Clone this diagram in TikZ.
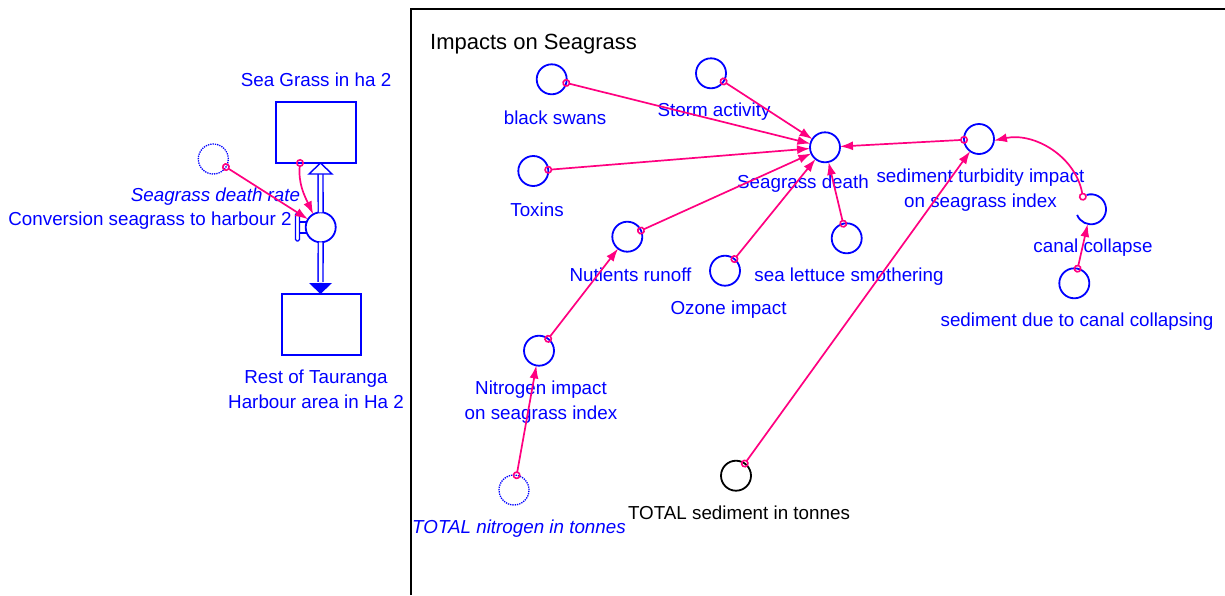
\documentclass[tikz,border=0pt]{standalone}
\usepackage{fontspec}
\setmainfont{Liberation Sans}
\usetikzlibrary{arrows.meta,calc}
\definecolor{vblue}{RGB}{0,0,255}
\definecolor{lmag}{RGB}{255,0,128}
\newcommand\lblfont{\fontsize{18.8pt}{25pt}\selectfont}
\newcommand\ttlfont{\fontsize{22pt}{26pt}\selectfont}
\begin{document}
\begin{tikzpicture}[x=1pt,y=1pt,
 aux/.style={circle,draw=vblue,line width=1.8pt,minimum size=30pt,inner sep=0pt,outer sep=0pt},
 shadowvar/.style={circle,draw=vblue,densely dotted,line width=1.3pt,minimum size=30pt,inner sep=0pt,outer sep=0pt},
 stock/.style={draw=vblue,line width=1.6pt,minimum width=80pt,minimum height=61pt,inner sep=0pt,outer sep=0pt},
 lbl/.style={text=vblue,font=\lblfont,inner sep=0pt,align=center},
 link/.style={draw=lmag,line width=1.7pt,{Circle[open,length=8pt,width=8pt,line width=1.6pt]}-{Latex[length=13pt,width=9pt]},shorten <=-4pt},
 pipe/.style={draw=vblue,line width=1.4pt,double=white,double distance=3.5pt},
]
\useasboundingbox (0,0) rectangle (1225,-595);
\fill[white] (0,0) rectangle (1225,-595);

% frame
\draw[line width=2pt] (411,-595) -- (411,-9) -- (1225,-9);

% ---------- left stock-flow ----------
\node[stock] (sg) at (316,-132.5) {};
\node[stock,minimum width=79pt] (rest) at (321.5,-324.5) {};
\node[lbl] (sglbl) at (316,-80) {Sea Grass in ha 2};
\node[lbl] (restlbl) at (316,-389.5) {Rest of Tauranga\\Harbour area in Ha 2};

\coordinate (ptop) at (320.5,-163);
\coordinate (ptopb) at (320.5,-174);
\coordinate (pbot) at (320.5,-294);
\coordinate (pbotb) at (320.5,-282);
\node[aux,fill=white] (valve) at (320.7,-227.3) {};
\draw[pipe] (valve.north) -- (ptopb);
\draw[pipe] (valve.south) -- (pbotb);
\draw[vblue,line width=1.4pt,fill=white,line join=miter] (ptop) -- ++(-11.5,-11) -- ++(23,0) -- cycle;
\fill[vblue] (pbot) -- ++(-11.5,11) -- ++(23,0) -- cycle;
% valve handle
\draw[vblue,line width=1.2pt,fill=white,rounded corners=1.5pt] (295.5,-213) rectangle (299.5,-241);
\draw[vblue,line width=1.2pt] (299.5,-222) -- (305.5,-222) (299.5,-233) -- (305.5,-233);

\node[shadowvar] (sgrate) at (213.3,-159) {};
\node[lbl,font=\lblfont\itshape] (sgratelbl) at (215.5,-197) {Seagrass death rate};
\node[lbl] (convlbl) at (150,-221) {Conversion seagrass to harbour 2};

\coordinate (sglink) at (300,-163);
\draw[link] (sgrate) -- (valve);
\draw[link] (sglink) to[out=-95,in=115] (valve.120);

% ---------- right panel ----------
\node[anchor=west,font=\ttlfont,inner sep=0pt] (title) at (430,-44) {Impacts on Seagrass};

\node[aux] (swans) at (551.7,-79.3) {};
\node[aux] (storm) at (711,-73.3) {};
\node[aux] (toxins) at (533.3,-171) {};
\node[aux] (death) at (825,-147.3) {};
\node[aux] (nutr) at (627.3,-236.7) {};
\node[aux] (ozone) at (725,-270.7) {};
\node[aux] (lettuce) at (846.7,-238.3) {};
\node[aux] (turb) at (979,-139) {};
\node[circle,minimum size=30pt,inner sep=0pt,outer sep=0pt] (canal) at (1091,-209.3) {};
\draw[vblue,line width=1.8pt] (canal.107) arc[start angle=107,end angle=-158,radius=15];
\node[aux] (seddue) at (1074.3,-283.3) {};
\node[aux] (nitro) at (539,-350.7) {};
\node[shadowvar] (totnit) at (514,-490) {};
\node[aux,draw=black] (totsed) at (736,-475.7) {};

\node[lbl] (swanslbl) at (555,-118) {black swans};
\node[lbl] (stormlbl) at (714,-112) {Storm activity};
\node[lbl] (toxinslbl) at (537,-210) {Toxins};
\node[lbl] (deathlbl) at (803,-184) {Seagrass death};
\node[lbl] (nutrlbl) at (630.5,-275) {Nutients runoff};
\node[lbl] (ozonelbl) at (728.5,-310) {Ozone impact};
\node[lbl] (lettucelbl) at (849,-277) {sea lettuce smothering};
\node[lbl,fill=white] (turblbl) at (980.5,-190) {sediment turbidity impact\\on seagrass index};
\node[lbl] (canallbl) at (1093,-248) {canal collapse};
\node[lbl] (seddueleb) at (1077,-322) {sediment due to canal collapsing};
\node[lbl] (nitrolbl) at (541,-402) {Nitrogen impact\\on seagrass index};
\node[lbl,font=\lblfont\itshape] (totnitlbl) at (519,-529) {TOTAL nitrogen in tonnes};
\node[lbl,text=black] (totsedlbl) at (739,-513) {TOTAL sediment in tonnes};

\draw[link] (swans) -- (death);
\draw[link] (storm) -- (death);
\draw[link] (toxins) -- (death);
\draw[link] (nutr) -- (death);
\draw[link] (ozone) -- (death);
\draw[link] (lettuce) -- (death);
\draw[link] (turb) -- (death);
\draw[link] (totsed) -- (turb);
\draw[link] (canal.123) to[out=100,in=12] (turb.-6);
\draw[link] (seddue) -- (canal);
\draw[link] (nitro) -- (nutr);
\draw[link] (totnit) -- (nitro);
\end{tikzpicture}
\end{document}
